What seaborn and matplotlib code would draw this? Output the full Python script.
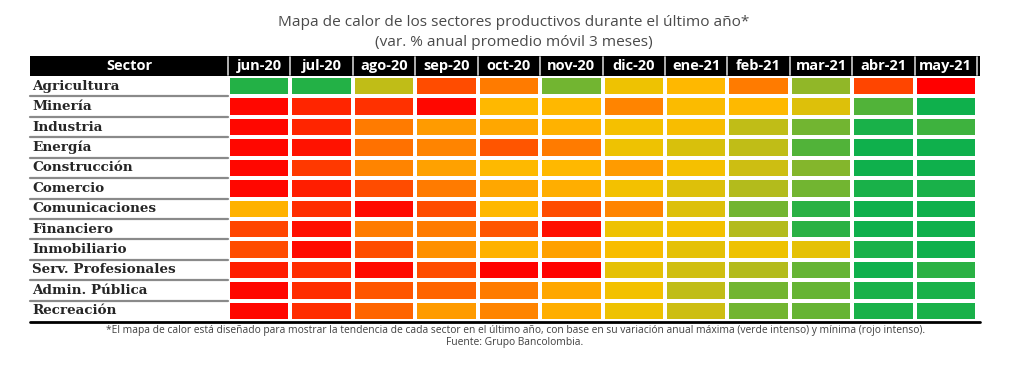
import matplotlib

matplotlib.use("Agg")

import matplotlib.pyplot as plt
import numpy as np
import pandas as pd
import seaborn as sns
from matplotlib.colors import LinearSegmentedColormap
from matplotlib.lines import Line2D
from matplotlib.patches import Rectangle

sns.set_theme(style="white")
plt.rcParams["font.family"] = ["Open Sans", "DejaVu Sans"]

TITLE = "Mapa de calor de los sectores productivos durante el último año*"
SUBTITLE = "(var. % anual promedio móvil 3 meses)"
NOTE = ("*El mapa de calor está diseñado para mostrar la tendencia de cada sector en el último año, "
        "con base en su variación anual máxima (verde intenso) y mínima (rojo intenso).")
SOURCE = "Fuente: Grupo Bancolombia."

months = ["jun-20", "jul-20", "ago-20", "sep-20", "oct-20", "nov-20",
          "dic-20", "ene-21", "feb-21", "mar-21", "abr-21", "may-21"]
sectors = ["Agricultura", "Minería", "Industria", "Energía", "Construcción", "Comercio",
           "Comunicaciones", "Financiero", "Inmobiliario", "Serv. Profesionales",
           "Admin. Pública", "Recreación"]

# 0 = rojo intenso (mínimo), 1 = verde intenso (máximo); leído a ojo del color
scores = [
    [0.93, 0.93, 0.68, 0.20, 0.30, 0.80, 0.58, 0.47, 0.30, 0.75, 0.18, 0.00],
    [0.02, 0.10, 0.13, 0.02, 0.47, 0.47, 0.32, 0.50, 0.48, 0.62, 0.85, 0.97],
    [0.02, 0.10, 0.30, 0.38, 0.42, 0.45, 0.55, 0.52, 0.68, 0.80, 0.95, 0.88],
    [0.02, 0.05, 0.28, 0.32, 0.22, 0.30, 0.58, 0.63, 0.68, 0.85, 0.97, 0.97],
    [0.02, 0.15, 0.32, 0.40, 0.48, 0.47, 0.38, 0.55, 0.66, 0.77, 0.97, 0.97],
    [0.02, 0.08, 0.20, 0.30, 0.42, 0.44, 0.56, 0.62, 0.70, 0.80, 0.95, 0.95],
    [0.45, 0.12, 0.03, 0.20, 0.47, 0.20, 0.32, 0.62, 0.80, 0.92, 0.97, 0.97],
    [0.18, 0.04, 0.30, 0.30, 0.22, 0.04, 0.58, 0.56, 0.70, 0.92, 0.97, 0.97],
    [0.20, 0.03, 0.20, 0.35, 0.45, 0.40, 0.52, 0.60, 0.58, 0.60, 0.95, 0.97],
    [0.08, 0.12, 0.03, 0.20, 0.01, 0.01, 0.60, 0.65, 0.70, 0.82, 0.97, 0.92],
    [0.02, 0.12, 0.22, 0.25, 0.30, 0.42, 0.56, 0.68, 0.80, 0.82, 0.95, 0.95],
    [0.02, 0.12, 0.25, 0.38, 0.32, 0.44, 0.58, 0.66, 0.80, 0.82, 0.95, 0.95],
]

cmap = LinearSegmentedColormap.from_list(
    "semaforo",
    [(0.0, "#ff0000"), (0.2, "#ff4c00"), (0.33, "#ff8a00"), (0.47, "#ffb800"),
     (0.57, "#f2c200"), (0.67, "#c8be14"), (0.77, "#86b62c"), (0.87, "#45b23c"),
     (1.0, "#00b050")],
)

df = pd.DataFrame(scores, index=sectors, columns=months)

fig = plt.figure(figsize=(10.24, 3.68), dpi=100)
W, H = 1024, 368


def fx(px):
    return px / W


def fy(py):
    return 1 - py / H


left, right, top, bottom = 228, 977, 76, 321
ax = fig.add_axes([fx(left), fy(bottom), fx(right - left), (bottom - top) / H])
sns.heatmap(df, ax=ax, cmap=cmap, vmin=0, vmax=1, cbar=False,
            linewidths=1.5, linecolor="white")

# header band (drawn below the axes so the tick labels stay on top)
fig.add_artist(Rectangle((fx(30), fy(top)), fx(right + 3 - 30), (top - 56) / H,
                         facecolor="black", edgecolor="none", zorder=-2,
                         transform=fig.transFigure))
fig.text(fx(129), fy(66), "Sector", color="white", fontsize=10.5, fontweight="bold",
         ha="center", va="center")
ax.xaxis.tick_top()
ax.set_xticklabels(months, rotation=0, color="white", fontsize=10.5, fontweight="bold")
ax.tick_params(axis="x", length=0, pad=2.5)
for i in range(len(months) + 1):
    xpix = left + i * (right - left) / len(months)
    fig.add_artist(Line2D([fx(xpix), fx(xpix)], [fy(57), fy(75)], color="#d0d0d0",
                          lw=1.2, zorder=-1, transform=fig.transFigure))

# row labels and separators
ax.set_yticklabels(sectors, rotation=0, ha="left", fontsize=9.7, fontweight="bold",
                   family=["DejaVu Serif"], color="#262626")
ax.tick_params(axis="y", length=0, pad=(left - 32) * 0.72)
ax.set_xlabel("")
ax.set_ylabel("")
row_h = (bottom - top) / len(sectors)
for i in range(1, len(sectors)):
    ypix = top + i * row_h
    fig.add_artist(Line2D([fx(30), fx(left)], [fy(ypix), fy(ypix)], color="#8a8a8a",
                          lw=1.6, transform=fig.transFigure))
fig.add_artist(Line2D([fx(30), fx(right + 3)], [fy(bottom + 1), fy(bottom + 1)],
                      color="black", lw=2, transform=fig.transFigure))

fig.text(0.502, fy(23), TITLE, ha="center", va="center", fontsize=11.1,
         color="#4a4a4a")
fig.text(0.502, fy(43), SUBTITLE, ha="center", va="center", fontsize=11.1,
         color="#4a4a4a")
fig.text(0.503, fy(330), NOTE, ha="center", va="center", fontsize=7.4,
         color="#404040")
fig.text(0.503, fy(343), SOURCE, ha="center", va="center", fontsize=7.4,
         color="#404040")

fig.savefig("out.png", dpi=100, facecolor="white")
plt.close(fig)
